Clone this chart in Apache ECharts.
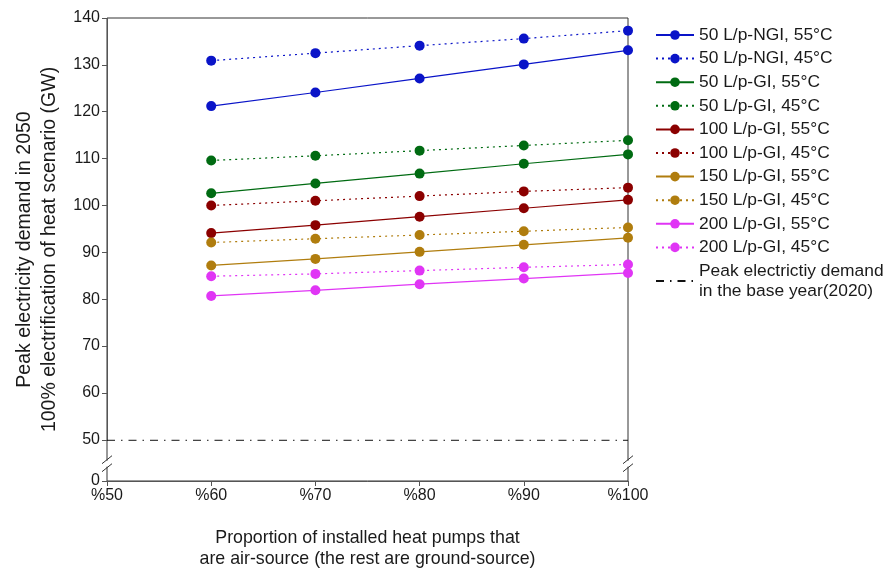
<!DOCTYPE html>
<html>
<head>
<meta charset="utf-8">
<script src="https://cdn.jsdelivr.net/npm/echarts@6/dist/echarts.min.js"></script>
<style>
html,body{margin:0;padding:0;background:#fff;}
#main{width:887px;height:570px;}
</style>
</head>
<body>
<div id="main"></div>
<script>
var categories = ['%50', '%60', '%70', '%80', '%90', '%100'];

// values per scenario, %50 has no data
var ngi50_55 = [null, 121.2, 124.1, 127.1, 130.1, 133.1];
var ngi50_45 = [null, 130.9, 132.5, 134.1, 135.6, 137.3];
var gi50_55 = [null, 102.6, 104.7, 106.8, 108.9, 110.9];
var gi50_45 = [null, 109.6, 110.6, 111.7, 112.8, 113.9];
var gi100_55 = [null, 94.1, 95.8, 97.6, 99.4, 101.2];
var gi100_45 = [null, 100.0, 101.0, 102.0, 103.0, 103.8];
var gi150_55 = [null, 87.2, 88.6, 90.1, 91.6, 93.1];
var gi150_45 = [null, 92.1, 92.9, 93.7, 94.5, 95.3];
var gi200_55 = [null, 80.7, 81.9, 83.2, 84.4, 85.6];
var gi200_45 = [null, 84.9, 85.4, 86.1, 86.8, 87.4];
var baseYear = [49.4, 49.4, 49.4, 49.4, 49.4, 49.4];

var chart = echarts.init(document.getElementById('main'));
var font = 'Liberation Sans, Arial, sans-serif';

function mkLine(name, data, color, dotted){
	return {
		name: name,
		type: 'line',
		data: data,
		symbol: 'circle',
		symbolSize: 10,
		itemStyle: { color: color },
		lineStyle: { color: color, width: 1.2, type: dotted ? [2, 4] : 'solid' },
		emphasis: { disabled: true }
	};
}

var option = {
	animation: false,
	textStyle: { fontFamily: font },
	grid: {
		left: 107,
		right: 259,
		top: 18,
		bottom: 89,
		outerBoundsMode: 'none',
		containLabel: false,
		show: true,
		borderColor: '#333',
		borderWidth: 1
	},
	legend: {
		orient: 'vertical',
		left: 655,
		top: 25,
		padding: 0,
		itemWidth: 38,
		itemHeight: 12,
		itemGap: 3.6,
		textStyle: { fontSize: 17.4, color: '#1a1a1a', fontFamily: font, lineHeight: 20 }
	},
	xAxis: {
		type: 'category',
		boundaryGap: false,
		data: categories,
		axisLine: { lineStyle: { color: '#555' } },
		axisTick: { show: true, alignWithLabel: true, length: 5, lineStyle: { color: '#555' } },
		axisLabel: { fontSize: 16, color: '#1a1a1a', margin: 7 },
		splitLine: { show: false },
		name: 'Proportion of installed heat pumps that\nare air-source (the rest are ground-source)',
		nameLocation: 'middle',
		nameGap: 47,
		nameTextStyle: { fontSize: 17.8, color: '#1a1a1a', lineHeight: 21 }
	},
	yAxis: {
		type: 'value',
		min: 0,
		max: 140,
		interval: 10,
		breaks: [{ start: 0, end: 50, gap: '8.9%' }],
		breakArea: { show: false },
		axisLine: { show: true, lineStyle: { color: '#555' } },
		axisTick: { show: true, length: 5, lineStyle: { color: '#555' } },
		axisLabel: { fontSize: 16, color: '#1a1a1a', margin: 7 },
		splitLine: { show: false },
		name: 'Peak electricity demand in 2050\n100% electrification of heat scenario (GW)',
		nameLocation: 'middle',
		nameGap: 43,
		nameTextStyle: { fontSize: 19.5, color: '#1a1a1a', lineHeight: 25 }
	},
	series: [
		mkLine('50 L/p-NGI, 55°C', ngi50_55, '#0a14c8', false),
		mkLine('50 L/p-NGI, 45°C', ngi50_45, '#0a14c8', true),
		mkLine('50 L/p-GI, 55°C', gi50_55, '#006b12', false),
		mkLine('50 L/p-GI, 45°C', gi50_45, '#006b12', true),
		mkLine('100 L/p-GI, 55°C', gi100_55, '#8b0000', false),
		mkLine('100 L/p-GI, 45°C', gi100_45, '#8b0000', true),
		mkLine('150 L/p-GI, 55°C', gi150_55, '#b07d0e', false),
		mkLine('150 L/p-GI, 45°C', gi150_45, '#b07d0e', true),
		mkLine('200 L/p-GI, 55°C', gi200_55, '#e035f5', false),
		mkLine('200 L/p-GI, 45°C', gi200_45, '#e035f5', true),
		{
			name: 'Peak electrictiy demand\nin the base year(2020)',
			type: 'line',
			data: baseYear,
			symbol: 'none',
			itemStyle: { color: '#111', opacity: 0 },
			lineStyle: { color: '#111', width: 1, type: [8, 6, 1.5, 6] },
			emphasis: { disabled: true }
		}
	]
};
chart.setOption(option);

// break marks on the left and right spines
var pTop = chart.convertToPixel({ yAxisIndex: 0 }, 50);
var pBot = chart.convertToPixel({ yAxisIndex: 0 }, 0);
var xL = chart.convertToPixel({ xAxisIndex: 0 }, '%50');
var xR = chart.convertToPixel({ xAxisIndex: 0 }, '%100');
var midY = pBot - (pBot - pTop) * 0.42;
var marks = [];
[xL, xR].forEach(function(x){
	marks.push({ type: 'rect', shape: { x: x - 3, y: midY - 3, width: 6, height: 6 }, style: { fill: '#fff' }, z: 100 });
	marks.push({ type: 'line', shape: { x1: x - 5, y1: midY - 0, x2: x + 5, y2: midY - 8 }, style: { stroke: '#333', lineWidth: 1 }, z: 101 });
	marks.push({ type: 'line', shape: { x1: x - 5, y1: midY + 8, x2: x + 5, y2: midY + 0 }, style: { stroke: '#333', lineWidth: 1 }, z: 101 });
});
chart.setOption({ graphic: marks });
</script>
</body>
</html>
